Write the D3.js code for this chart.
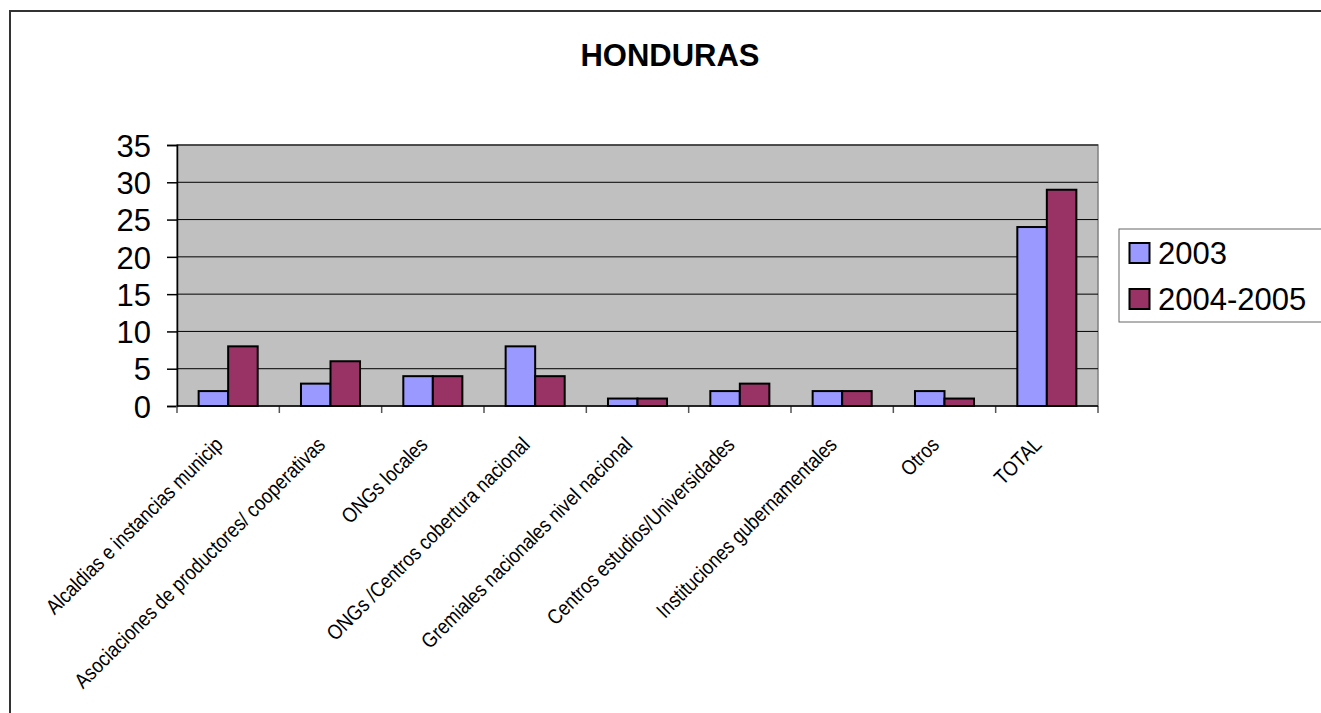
<!DOCTYPE html>
<html><head><meta charset="utf-8">
<script src="https://cdn.jsdelivr.net/npm/d3@7"></script>
<style>body{margin:0;background:#fff;overflow:hidden}svg{display:block}</style>
</head><body>
<script>
const categories = ["Alcaldias e instancias municip","Asociaciones de productores/ cooperativas","ONGs locales","ONGs /Centros cobertura nacional","Gremiales nacionales nivel nacional","Centros estudios/Universidades","Instituciones gubernamentales","Otros","TOTAL"];
const seriesNames = ["2003","2004-2005"];
const values2003 = [2,3,4,8,1,2,2,2,24];
const values2004_2005 = [8,6,4,4,1,3,2,1,29];
const yTicks = [0,5,10,15,20,25,30,35];
const colors = ["#9999FF","#993366"];
const title = "HONDURAS";

const W=1321,H=713;
const svg=d3.select("body").append("svg").attr("width",W).attr("height",H);
// outer chart border
svg.append("rect").attr("x",10).attr("y",11).attr("width",W+20).attr("height",H+20)
  .attr("fill","#fff").attr("stroke","#333").attr("stroke-width",2);

const L=177,R=1098,T=145,B=406;
const x=d3.scaleBand().domain(categories).range([L,R]).paddingInner(0.423).paddingOuter(0.2115);
const x0=d3.scaleBand().domain(categories).range([L,R]);
const y=d3.scaleLinear().domain([0,35]).range([B,T]);
const inner=d3.scaleBand().domain(seriesNames).range([0,x.bandwidth()]);

svg.append("rect").attr("x",L).attr("y",T).attr("width",R-L).attr("height",B-T)
  .attr("fill","#C0C0C0").attr("stroke","#808080").attr("stroke-width",1.5);

// gridlines
svg.append("g").selectAll("line").data(yTicks.filter(d=>d>0)).join("line")
  .attr("x1",L).attr("x2",R).attr("y1",d=>y(d)).attr("y2",d=>y(d))
  .attr("stroke","#000").attr("stroke-width",1);

// y axis
const ya=svg.append("g").attr("transform",`translate(${L},0)`)
  .call(d3.axisLeft(y).tickValues(yTicks).tickSize(10).tickPadding(16));
ya.select(".domain").attr("stroke","#000").attr("stroke-width",1.5);
ya.selectAll(".tick line").attr("stroke","#000").attr("stroke-width",1.5);
ya.selectAll("text").attr("font-family","Liberation Sans, Arial, sans-serif").attr("font-size",31).attr("fill","#000").attr("dy","0.36em");

// x axis ticks at category boundaries
const bounds=categories.map(c=>x0(c)).concat([R]);
svg.append("g").selectAll("line").data(bounds).join("line")
  .attr("x1",d=>d).attr("x2",d=>d).attr("y1",B).attr("y2",B+7)
  .attr("stroke","#555").attr("stroke-width",1.5);
svg.append("line").attr("x1",L).attr("x2",R).attr("y1",B).attr("y2",B).attr("stroke","#000").attr("stroke-width",1.5);

// bars
const data=categories.map((c,i)=>({c,vals:[values2003[i],values2004_2005[i]]}));
const g=svg.append("g").selectAll("g").data(data).join("g").attr("transform",d=>`translate(${x(d.c)},0)`);
g.selectAll("rect").data(d=>d.vals.map((v,j)=>({v,s:seriesNames[j],j}))).join("rect")
  .attr("x",d=>inner(d.s)).attr("width",inner.bandwidth())
  .attr("y",d=>y(d.v)).attr("height",d=>B-y(d.v))
  .attr("fill",d=>colors[d.j]).attr("stroke","#000").attr("stroke-width",2);

// x labels
svg.append("g").selectAll("text").data(categories).join("text")
  .attr("transform",d=>`translate(${x0(d)+x0.bandwidth()/2-4},${B+40}) rotate(-45) scale(0.86,1)`)
  .attr("text-anchor","end")
  .attr("font-family","Liberation Sans Narrow, Arial Narrow, Liberation Sans, sans-serif")
  .attr("font-size",21).attr("fill","#000").text(d=>d);

// title
svg.append("text").attr("x",670).attr("y",66).attr("text-anchor","middle")
  .attr("font-family","Liberation Sans, Arial, sans-serif").attr("font-weight","bold")
  .attr("font-size",31).text(title);

// legend
const lg=svg.append("g");
lg.append("rect").attr("x",1119).attr("y",229).attr("width",220).attr("height",93)
  .attr("fill","#fff").attr("stroke","#666").attr("stroke-width",1);
seriesNames.forEach((s,i)=>{
  const yy=253+i*46;
  lg.append("rect").attr("x",1129.5).attr("y",yy-10).attr("width",20).attr("height",20)
    .attr("fill",colors[i]).attr("stroke","#000").attr("stroke-width",2);
  lg.append("text").attr("x",1158).attr("y",yy+10.5)
    .attr("font-family","Liberation Sans, Arial, sans-serif").attr("font-size",31).text(s);
});
</script>
</body></html>
